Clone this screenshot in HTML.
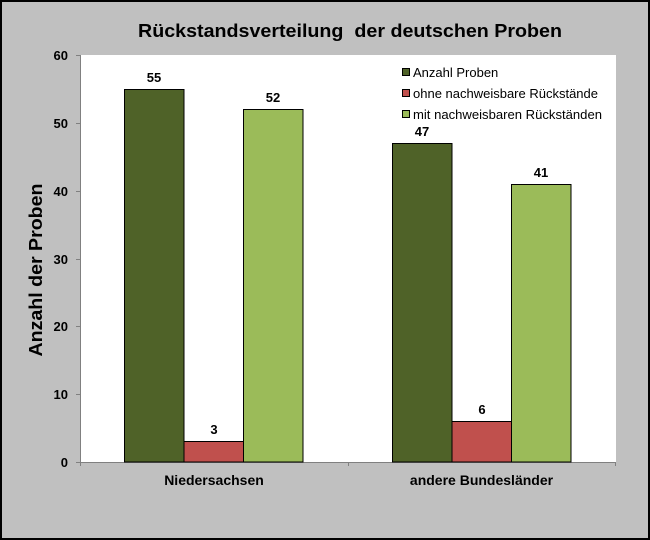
<!DOCTYPE html>
<html><head><meta charset="utf-8"><style>
html,body{margin:0;padding:0;background:#c0c0c0;}
svg{display:block;}
text{font-family:"Liberation Sans",Arial,sans-serif;fill:#000;}
</style></head><body>
<svg width="650" height="540" viewBox="0 0 650 540" xmlns="http://www.w3.org/2000/svg">
<rect x="1" y="1" width="648" height="538" fill="#c0c0c0" stroke="#000" stroke-width="2"/>
<text x="350" y="37" font-size="18" font-weight="bold" text-anchor="middle" textLength="424" lengthAdjust="spacingAndGlyphs">Rückstandsverteilung&#160; der deutschen Proben</text>
<rect x="81" y="55" width="535" height="407" fill="#fff"/>
<!-- axes -->
<g stroke="#808080" stroke-width="1">
<line x1="80.5" y1="55" x2="80.5" y2="462"/>
<line x1="80" y1="462.5" x2="616" y2="462.5"/>
<line x1="76" y1="55.5" x2="80" y2="55.5"/>
<line x1="76" y1="123.5" x2="80" y2="123.5"/>
<line x1="76" y1="191.5" x2="80" y2="191.5"/>
<line x1="76" y1="259.5" x2="80" y2="259.5"/>
<line x1="76" y1="326.5" x2="80" y2="326.5"/>
<line x1="76" y1="394.5" x2="80" y2="394.5"/>
<line x1="76" y1="462.5" x2="80" y2="462.5"/>
<line x1="348.5" y1="462" x2="348.5" y2="466"/>
<line x1="615.5" y1="462" x2="615.5" y2="466"/>
<line x1="80.5" y1="462" x2="80.5" y2="466"/>
</g>
<g font-size="13" font-weight="bold" text-anchor="end">
<text x="68" y="60">60</text>
<text x="68" y="128">50</text>
<text x="68" y="196">40</text>
<text x="68" y="264">30</text>
<text x="68" y="331">20</text>
<text x="68" y="399">10</text>
<text x="68" y="467">0</text>
</g>
<text transform="translate(42,270) rotate(-90)" font-size="18" font-weight="bold" text-anchor="middle" textLength="173" lengthAdjust="spacingAndGlyphs">Anzahl der Proben</text>
<!-- bars -->
<g stroke="#000" stroke-width="1">
<rect x="124.5" y="89.5" width="59.5" height="372.5" fill="#4f6228"/>
<rect x="184" y="441.5" width="59.5" height="20.5" fill="#c0504d"/>
<rect x="243.5" y="109.5" width="59.5" height="352.5" fill="#9bbb59"/>
<rect x="392.5" y="143.5" width="59.5" height="318.5" fill="#4f6228"/>
<rect x="452" y="421.5" width="59.5" height="40.5" fill="#c0504d"/>
<rect x="511.5" y="184.5" width="59.5" height="277.5" fill="#9bbb59"/>
</g>
<g font-size="13" font-weight="bold" text-anchor="middle">
<text x="154" y="82">55</text>
<text x="214" y="434">3</text>
<text x="273" y="102">52</text>
<text x="422" y="136">47</text>
<text x="482" y="414">6</text>
<text x="541" y="177">41</text>
</g>
<!-- legend -->
<g stroke="#000" stroke-width="1">
<rect x="402.5" y="68.5" width="7" height="7" fill="#4f6228"/>
<rect x="402.5" y="89.5" width="7" height="7" fill="#c0504d"/>
<rect x="402.5" y="110.5" width="7" height="7" fill="#9bbb59"/>
</g>
<g font-size="13">
<text x="413" y="77">Anzahl Proben</text>
<text x="413" y="98" textLength="185" lengthAdjust="spacingAndGlyphs">ohne nachweisbare Rückstände</text>
<text x="413" y="119" textLength="189" lengthAdjust="spacingAndGlyphs">mit nachweisbaren Rückständen</text>
</g>
<g font-size="14" font-weight="bold" text-anchor="middle">
<text x="214" y="485">Niedersachsen</text>
<text x="481.5" y="485">andere Bundesländer</text>
</g>
</svg>
</body></html>
